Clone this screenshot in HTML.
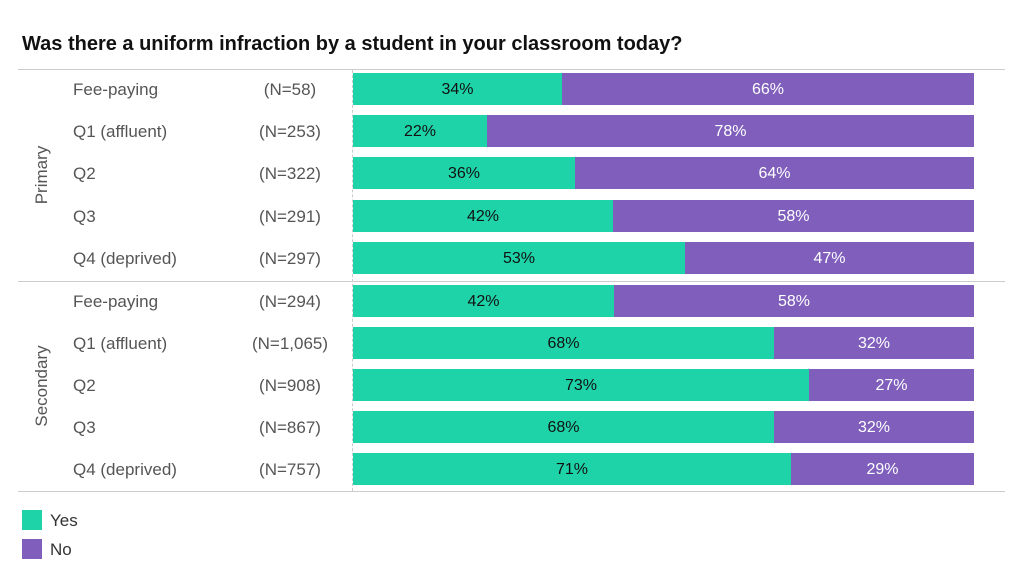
<!DOCTYPE html><html><head><style>
body{margin:0;width:1024px;height:585px;background:#fff;font-family:"Liberation Sans",sans-serif;position:relative;overflow:hidden}
.a{position:absolute}
.t{font-size:17px;color:#555;white-space:nowrap}
.bar{position:absolute;height:32px;font-size:16px;line-height:33px;text-align:center}
.y{background:#1fd3a8;color:#111}.n{background:#7f5fbb;color:#fff}
</style></head><body>
<div class="a" style="left:22px;top:33px;font-size:20px;font-weight:bold;color:#111">Was there a uniform infraction by a student in your classroom today?</div>
<div class="a" style="left:18px;top:69px;width:987px;height:1px;background:#ccc"></div>
<div class="a" style="left:18px;top:281px;width:987px;height:1px;background:#ccc"></div>
<div class="a" style="left:18px;top:491px;width:987px;height:1px;background:#ccc"></div>
<div class="a" style="left:352px;top:70px;height:421px;border-left:1px dashed #ccc"></div>
<div class="a t" style="left:42px;top:175px;transform:translate(-50%,-50%) rotate(-90deg)">Primary</div>
<div class="a t" style="left:42px;top:386px;transform:translate(-50%,-50%) rotate(-90deg)">Secondary</div>
<div id="rows"></div>
<div class="a" style="left:22px;top:510px;width:20px;height:20px;background:#1fd3a8"></div>
<div class="a t" style="left:50px;top:511px;color:#333">Yes</div>
<div class="a" style="left:22px;top:539px;width:20px;height:20px;background:#7f5fbb"></div>
<div class="a t" style="left:50px;top:540px;color:#333">No</div>
<script>
var d=[["Fee-paying","(N=58)",34,209],["Q1 (affluent)","(N=253)",22,134],["Q2","(N=322)",36,222],["Q3","(N=291)",42,260],["Q4 (deprived)","(N=297)",53,332],
["Fee-paying","(N=294)",42,261],["Q1 (affluent)","(N=1,065)",68,421],["Q2","(N=908)",73,456],["Q3","(N=867)",68,421],["Q4 (deprived)","(N=757)",71,438]];
var h="",x0=353,W=621;
d.forEach(function(r,i){var top=73+i*42.2+(i>=5?0.5:0);var c=top+16;
h+='<div class="a t" style="left:73px;top:'+(c-9)+'px">'+r[0]+'</div>';
h+='<div class="a t" style="left:290px;top:'+(c-9)+'px;transform:translateX(-50%)">'+r[1]+'</div>';
var w=r[3];
h+='<div class="bar y" style="left:'+x0+'px;top:'+top+'px;width:'+w+'px">'+r[2]+'%</div>';
h+='<div class="bar n" style="left:'+(x0+w)+'px;top:'+top+'px;width:'+(W-w)+'px">'+(100-r[2])+'%</div>';});
document.getElementById("rows").innerHTML=h;
</script></body></html>
